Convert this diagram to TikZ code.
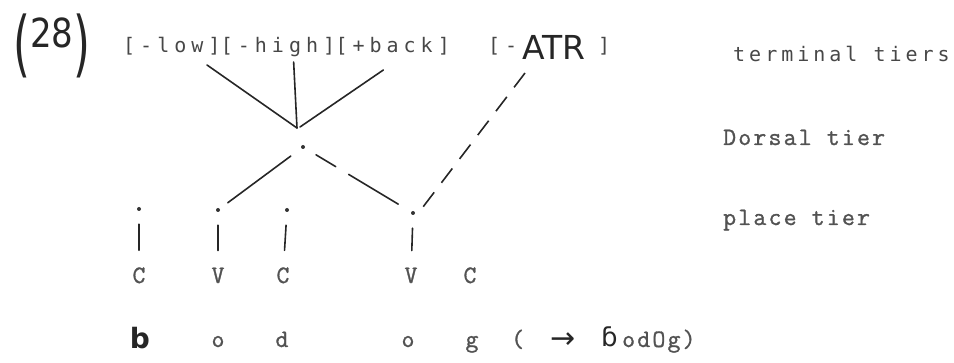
\documentclass[tikz,border=0pt]{standalone}
\usepackage{fontspec}
\usetikzlibrary{calc}
\newfontfamily\typeS[LetterSpace=25]{DejaVu Sans Mono}
\newfontfamily\typeT[LetterSpace=20]{DejaVu Sans Mono}
\newfontfamily\typeR[LetterSpace=9,FakeBold=1.2]{Latin Modern Mono}
\newfontfamily\hand{DejaVu Sans}
\begin{document}
\begin{tikzpicture}[x=1pt,y=-1pt,
  feat/.style={inner sep=0pt, anchor=base west, text=black!72, font=\typeS\fontsize{20}{24}\selectfont},
  featt/.style={feat, font=\typeT\fontsize{20}{24}\selectfont},
  typ/.style={inner sep=0pt, anchor=base west, text=black!68, font=\typeR\fontsize{25}{30}\selectfont},
  typc/.style={inner sep=0pt, anchor=base, text=black!68, font=\typeR\fontsize{25}{30}\selectfont},
  handw/.style={inner sep=0pt, text=black!85, font=\hand},
  lnk/.style={line width=1.6pt, draw=black!85, line cap=round},
  brk/.style={lnk, dash pattern=on 23pt off 15pt on 200pt},
  dsh/.style={lnk, line cap=butt, dash pattern=on 18pt off 12pt},
  pdot/.style={circle, fill=black!80, inner sep=0pt, minimum size=4pt},
  assoc/.style={lnk, shorten <=13pt, shorten >=17pt}]
\useasboundingbox (0,0) rectangle (954,363);
% example number
\node[handw, anchor=base west] (ex) at (13,69)
  {\fontsize{72}{72}\selectfont\scalebox{0.6}[1]{(}\raisebox{21pt}{\fontsize{40}{40}\selectfont\scalebox{0.85}[1]{28}}\scalebox{0.6}[1]{)}};
% terminal tier
\node[feat] (lowf) at (123,53) {[-low]};
\node[feat] (highf) at (lowf.base east) {[-high]};
\node[feat] (backf) at (highf.base east) {[+back]};
\node[feat] (atrl) at (488,53) {[-};
\node[handw, anchor=base west, font=\hand\fontsize{33}{36}\selectfont] (atr) at (522,60) {ATR};
\node[feat] (atrr) at (598,53) {]};
% tier labels
\node[featt] (term) at (733,62) {terminal tiers};
\node[typ] (dlab) at (723,145) {Dorsal tier};
\node[typ] (plab) at (723,225) {place tier};
% dorsal node
\coordinate (dj) at (297,128);
\node[pdot] (dors) at (303,147) {};
% place tier nodes
\node[pdot] (p1) at (139,209) {};
\node[pdot] (p2) at (218,210) {};
\node[pdot] (p3) at (287,210) {};
\node[pdot] (p4) at (413,213) {};
% skeleton
\node[typc] (s1) at (139,283) {C};
\node[typc] (s2) at (218,283) {V};
\node[typc] (s3) at (283,283) {C};
\node[typc] (s4) at (411,283) {V};
\node[typc] (s5) at (470,283) {C};
% segments
\node[handw, anchor=base, font=\hand\bfseries\fontsize{28}{30}\selectfont] (b1) at (140,349) {b};
\node[typc] (o1) at (218,347) {o};
\node[typc] (d1) at (282,347) {d};
\node[typc] (o2) at (408,347) {o};
\node[typc] (g1) at (472,347) {g};
\node[typ] (lp) at (511,347) {(};
\node[handw, anchor=base west, font=\hand\fontsize{30}{32}\selectfont] (arr) at (550,349) {→};
\node[handw, anchor=base west, font=\hand\fontsize{26}{30}\selectfont] (ib) at (601,347) {ɓ};
\node[typ] (res) at (622,347) {odOg)};
% association lines
\draw[lnk] ($(lowf.base west)+(84,12)$) -- (dj);
\draw[lnk] ($(highf.base west)+(73,9)$) -- (dj);
\draw[lnk] ($(backf.base west)+(48,17)$) -- ($(dj)+(3,-1)$);
\draw[dsh] ($(atr.base west)+(3,13)$) -- ($(p4)+(10,-6)$);
\draw[lnk, shorten <=13pt, shorten >=10pt] (dors) -- (p2);
\draw[brk, shorten <=13pt, shorten >=15pt] (dors) -- (p4);
\draw[assoc] (p1) -- (s1);
\draw[assoc] (p2) -- (s2);
\draw[assoc] (p3) -- (s3);
\draw[assoc] (p4) -- (s4);
\end{tikzpicture}
\end{document}
